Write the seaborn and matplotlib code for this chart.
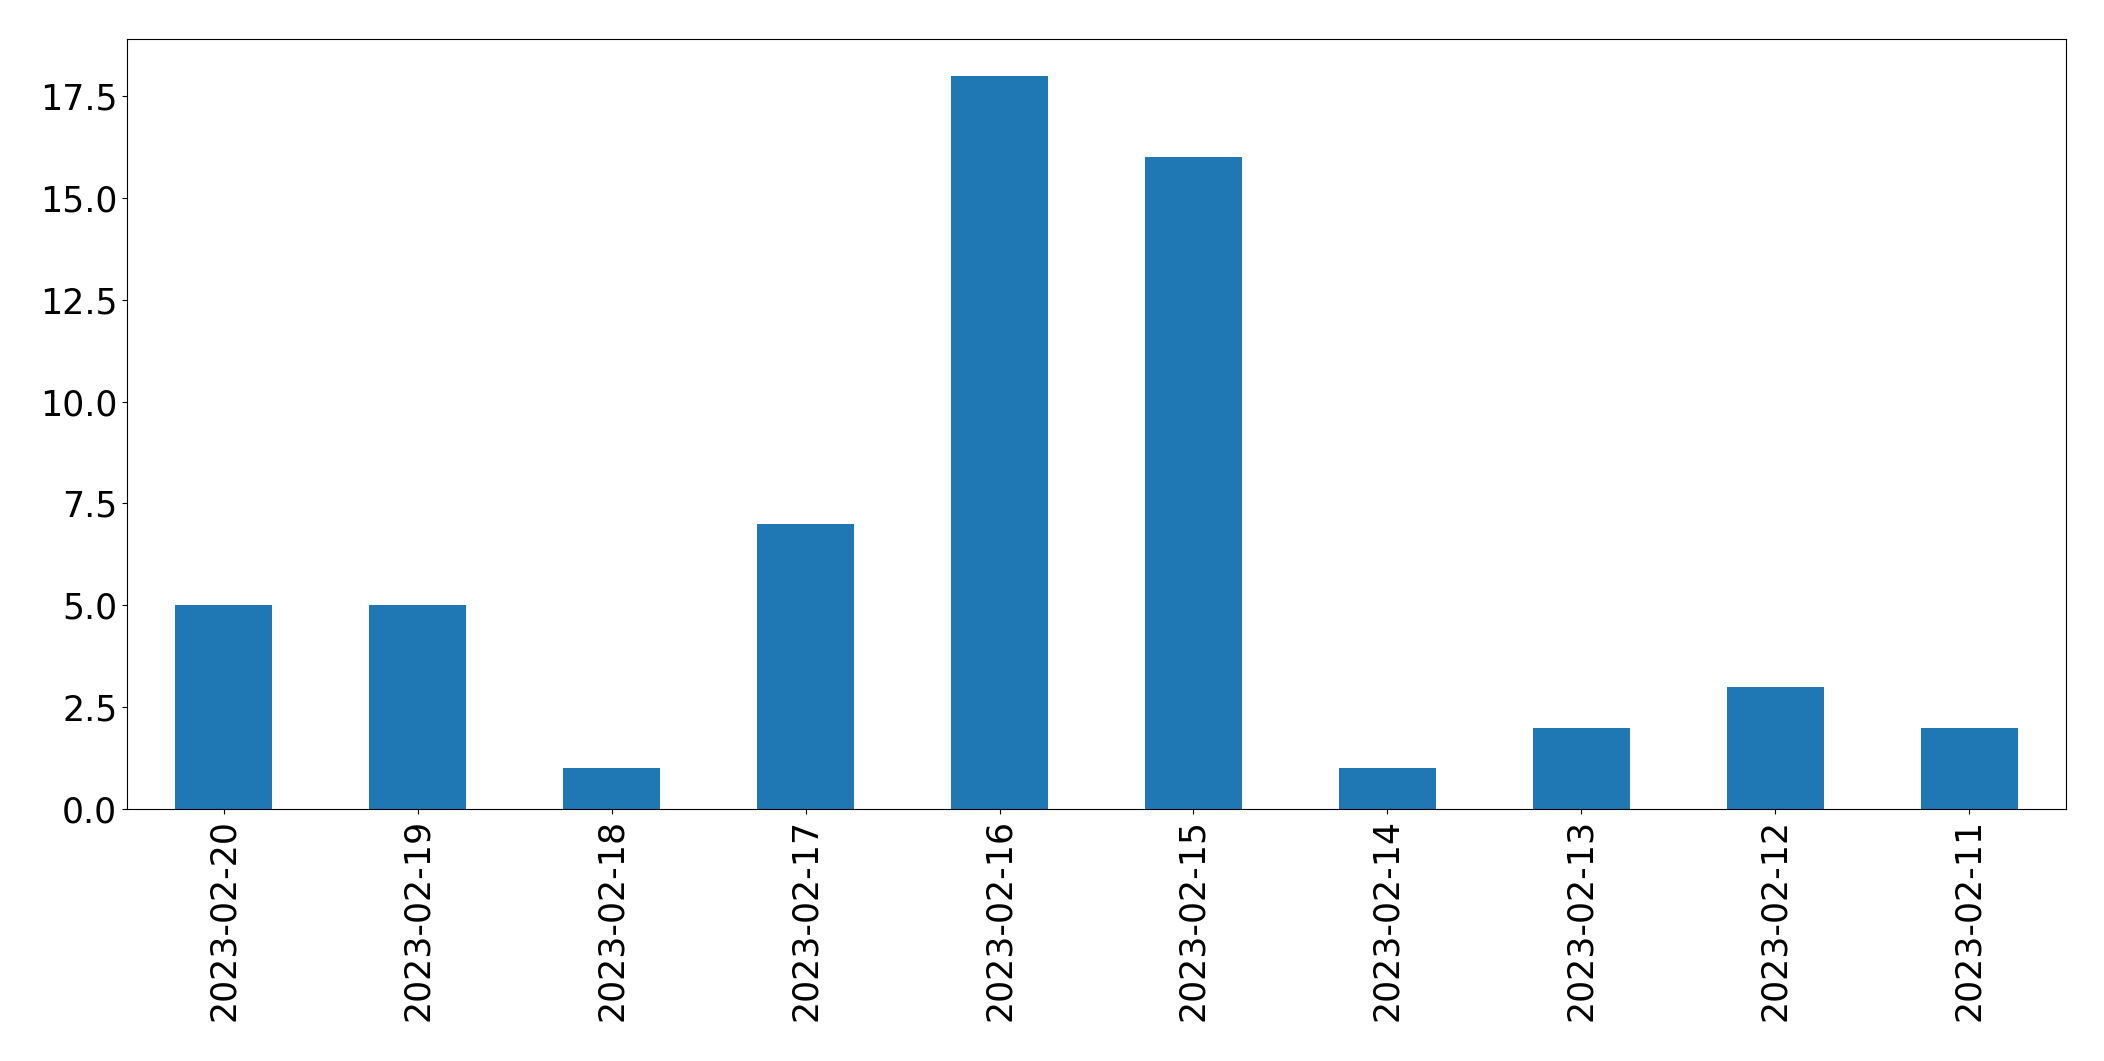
import matplotlib
matplotlib.use("Agg")
import matplotlib.pyplot as plt
import seaborn as sns
import pandas as pd

dates = ["2023-02-20", "2023-02-19", "2023-02-18", "2023-02-17", "2023-02-16",
         "2023-02-15", "2023-02-14", "2023-02-13", "2023-02-12", "2023-02-11"]
counts = [5, 5, 1, 7, 18, 16, 1, 2, 3, 2]

df = pd.DataFrame({"date": dates, "count": counts})

fig = plt.figure(figsize=(21.04, 10.61), dpi=100)
ax = fig.add_axes([127 / 2104, 1 - 809 / 1061, (2066 - 127) / 2104, (809 - 39) / 1061])
sns.barplot(data=df, x="date", y="count", color="#1f77b4", saturation=1,
            width=0.5, ax=ax, order=dates, linewidth=0)
ax.set_xlim(-0.5, len(dates) - 0.5)
ax.set_ylim(0, max(counts) * 1.05)
ax.set_xlabel("")
ax.set_ylabel("")
ax.tick_params(axis="both", labelsize=25)
ax.tick_params(axis="x", labelrotation=90)
fig.savefig("out.png", dpi=100)
